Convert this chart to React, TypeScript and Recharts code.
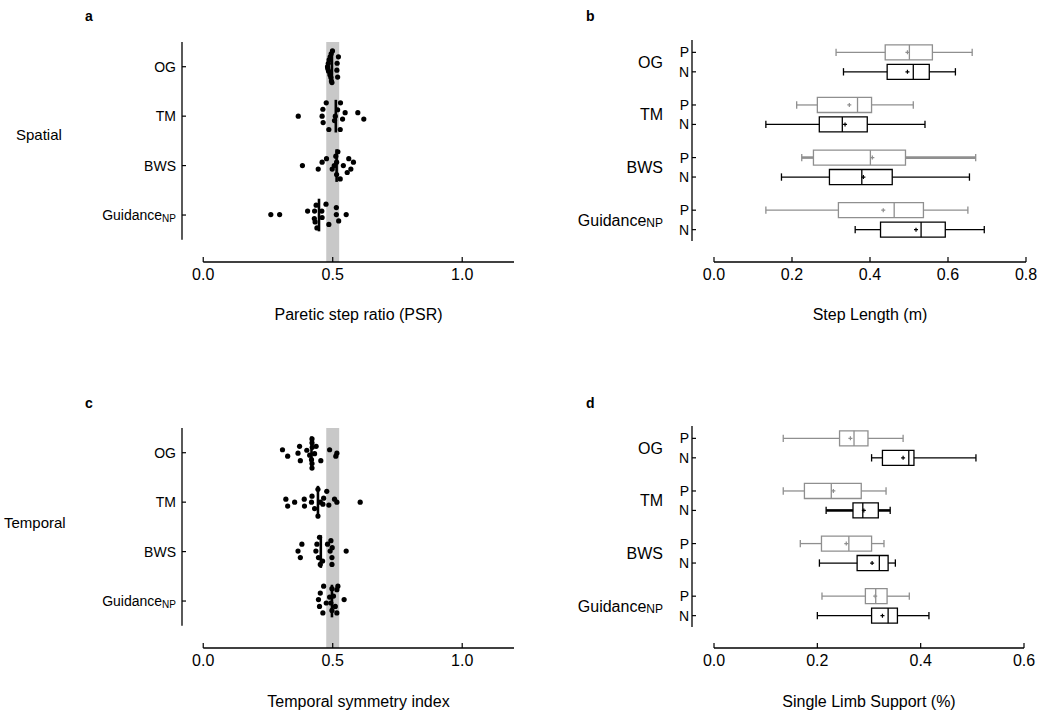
import React from "react";
import {
  ScatterChart,
  Scatter,
  XAxis,
  YAxis,
  ReferenceArea,
  ReferenceLine,
} from "recharts";

const FONT = "'Liberation Sans', Arial, sans-serif";

const groups = ["OG", "TM", "BWS", "Guidance"];
const groupRows = [4, 3, 2, 1];

// panel a: paretic step ratio, [value, vertical jitter in row units]
const psrOG: [number, number][] = [
  [0.519, -0.21], [0.516, -0.07], [0.517, 0.07], [0.522, 0.2],
  [0.497, -0.32], [0.495, -0.29], [0.493, -0.22], [0.489, -0.16], [0.484, -0.09],
  [0.481, -0.04], [0.48, 0], [0.483, 0.07], [0.486, 0.14], [0.49, 0.2],
  [0.494, 0.26], [0.499, 0.32],
];
const psrTM: [number, number][] = [
  [0.367, 0], [0.485, -0.27], [0.529, -0.27], [0.463, -0.13], [0.459, 0],
  [0.462, 0.14], [0.475, 0.27], [0.507, -0.09], [0.51, 0], [0.538, -0.06],
  [0.548, 0.07], [0.53, 0.27], [0.597, 0.07], [0.62, -0.06], [0.519, 0.13],
];
const psrBWS: [number, number][] = [
  [0.383, 0], [0.444, -0.07], [0.459, 0.07], [0.476, 0.14], [0.529, -0.27],
  [0.515, -0.18], [0.498, -0.07], [0.506, 0], [0.515, 0.07], [0.512, 0.19],
  [0.52, 0.28], [0.556, -0.14], [0.57, -0.07], [0.541, 0], [0.58, 0.07], [0.562, 0.14],
];
const psrGuidance: [number, number][] = [
  [0.261, 0.01], [0.295, 0.01], [0.403, 0.08], [0.43, 0.08], [0.429, -0.07],
  [0.432, -0.14], [0.439, -0.26], [0.436, 0.2], [0.459, -0.05], [0.458, 0.08],
  [0.474, 0.22], [0.485, -0.19], [0.523, -0.12], [0.514, 0.01], [0.514, 0.15], [0.552, 0.01],
];
const psrMedians = [0.497, 0.512, 0.515, 0.447];

// panel c: temporal symmetry index
const tsiOG: [number, number][] = [
  [0.306, 0.06], [0.326, -0.07], [0.375, -0.16], [0.366, -0.01], [0.372, 0.13],
  [0.4, 0.05], [0.411, -0.05], [0.42, -0.31], [0.42, -0.22], [0.418, -0.14],
  [0.421, 0.11], [0.42, 0.2], [0.42, 0.28], [0.43, -0.02], [0.436, 0.13],
  [0.454, -0.16], [0.488, 0.06], [0.512, -0.07], [0.516, -0.01],
];
const tsiTM: [number, number][] = [
  [0.326, -0.08], [0.319, 0.06], [0.353, 0], [0.391, -0.08], [0.39, 0.06],
  [0.418, 0], [0.42, 0.12], [0.43, -0.13], [0.443, -0.28], [0.443, 0.26],
  [0.452, 0], [0.462, -0.04], [0.465, 0.08], [0.477, 0.22], [0.485, -0.06],
  [0.507, 0.06], [0.516, 0], [0.606, 0],
];
const tsiBWS: [number, number][] = [
  [0.375, -0.12], [0.366, 0.01], [0.381, 0.15], [0.435, 0.01], [0.439, 0.15],
  [0.452, -0.26], [0.461, -0.19], [0.445, -0.12], [0.449, 0.29], [0.497, -0.26],
  [0.497, -0.12], [0.49, 0.01], [0.498, 0.08], [0.48, 0.15], [0.493, 0.22], [0.552, 0.01],
];
const tsiGuidance: [number, number][] = [
  [0.462, -0.24], [0.449, -0.11], [0.445, 0.03], [0.452, 0.16], [0.465, 0.3],
  [0.475, -0.04], [0.488, 0.08], [0.497, -0.19], [0.497, 0.25], [0.516, -0.24],
  [0.51, -0.11], [0.503, 0.1], [0.516, 0.23], [0.52, 0.3], [0.544, 0.03], [0.493, -0.04],
];
const tsiMedians = [0.418, 0.443, 0.454, 0.497];

// box stats per group: [min, q1, median, q3, max, mean]
const stepLengthP = [
  [0.313, 0.439, 0.501, 0.56, 0.662, 0.496],
  [0.212, 0.265, 0.368, 0.404, 0.511, 0.347],
  [0.225, 0.255, 0.401, 0.491, 0.671, 0.406],
  [0.133, 0.319, 0.462, 0.537, 0.651, 0.434],
];
const stepLengthN = [
  [0.332, 0.444, 0.511, 0.552, 0.619, 0.496],
  [0.133, 0.27, 0.329, 0.393, 0.541, 0.336],
  [0.173, 0.296, 0.379, 0.457, 0.655, 0.383],
  [0.362, 0.427, 0.531, 0.593, 0.693, 0.518],
];
const singleLimbP = [
  [0.134, 0.243, 0.271, 0.298, 0.366, 0.264],
  [0.134, 0.175, 0.227, 0.285, 0.333, 0.231],
  [0.167, 0.208, 0.261, 0.305, 0.329, 0.256],
  [0.209, 0.293, 0.313, 0.335, 0.378, 0.312],
];
const singleLimbN = [
  [0.305, 0.326, 0.377, 0.387, 0.507, 0.366],
  [0.217, 0.269, 0.288, 0.318, 0.341, 0.29],
  [0.204, 0.277, 0.32, 0.337, 0.351, 0.306],
  [0.2, 0.305, 0.337, 0.355, 0.416, 0.326],
];

const psrTicks = [0, 0.5, 1];
const stepTicks = [0, 0.2, 0.4, 0.6, 0.8];
const slsTicks = [0, 0.2, 0.4, 0.6];

const GREY = "#8f8f8f";
const BAND = "#c8c8c8";

function GroupLabel({ x, y, name, size }: any) {
  if (name === "Guidance") {
    const sub = Math.round(size * 0.72);
    const subW = sub * 1.39;
    return (
      <g fontFamily={FONT}>
        <text x={x - subW} y={y} dy="0.36em" textAnchor="end" fontSize={size}>
          Guidance
        </text>
        <text x={x} y={y + 3} dy="0.36em" textAnchor="end" fontSize={sub}>
          NP
        </text>
      </g>
    );
  }
  return (
    <text x={x} y={y} dy="0.36em" textAnchor="end" fontSize={size} fontFamily={FONT}>
      {name}
    </text>
  );
}

const XTick = (p: any) => (
  <g>
    <line x1={p.x} x2={p.x} y1={p.y - 5} y2={p.y} stroke="#000" strokeWidth={1.2} />
    <text x={p.x} y={p.y + 18} textAnchor="middle" fontSize={16} fontFamily={FONT}>
      {Number(p.payload.value).toFixed(1)}
    </text>
  </g>
);

function StripTick(p: any) {
  const i = groupRows.indexOf(p.payload.value);
  return (
    <g>
      <line x1={p.x} x2={p.x + 4} y1={p.y} y2={p.y} stroke="#000" strokeWidth={1.2} />
      <GroupLabel x={p.x - 6} y={p.y} name={groups[i]} size={14} />
    </g>
  );
}

const dot = (p: any) => <circle cx={p.cx} cy={p.cy} r={2.6} fill="#000" />;

function StripPanel({ top, sets, medians }: any) {
  const xMin = -0.082;
  const pts = sets.flatMap((s: [number, number][], gi: number) =>
    s.map(([v, j]) => ({ x: v, y: groupRows[gi] + j }))
  );
  return (
    <div style={{ position: "absolute", left: 0, top, width: 530, height: 290 }}>
      <ScatterChart width={530} height={290} margin={{ top: 42, right: 16, bottom: 3, left: 181 }}>
        <XAxis
          type="number"
          dataKey="x"
          domain={[xMin, 1.2]}
          ticks={psrTicks}
          interval={0}
          allowDataOverflow
          height={25}
          axisLine={false}
          tickLine={false}
          tickSize={0}
          tickMargin={0}
          tick={XTick}
        />
        <YAxis
          type="number"
          dataKey="y"
          domain={[0.05, 4.5]}
          ticks={groupRows}
          interval={0}
          allowDataOverflow
          width={1}
          axisLine={false}
          tickLine={false}
          tickSize={0}
          tickMargin={0}
          tick={StripTick}
        />
        <ReferenceArea x1={0.475} x2={0.525} y1={0.05} y2={4.5} fill={BAND} fillOpacity={1} stroke="none" ifOverflow="visible" />
        <ReferenceLine segment={[{ x: 0, y: 0.05 }, { x: 1.2, y: 0.05 }]} stroke="#000" strokeWidth={1.3} ifOverflow="visible" />
        <ReferenceLine segment={[{ x: xMin, y: 0.5 }, { x: xMin, y: 4.5 }]} stroke="#000" strokeWidth={1.3} ifOverflow="visible" />
        <Scatter data={pts} shape={dot} isAnimationActive={false} />
        {medians.map((m: number, i: number) => (
          <ReferenceLine
            key={i}
            segment={[{ x: m, y: groupRows[i] - 0.33 }, { x: m, y: groupRows[i] + 0.33 }]}
            stroke="#000"
            strokeWidth={2.6}
          />
        ))}
      </ScatterChart>
    </div>
  );
}

const ROW_OFF = 0.185;
const BOX_H = 0.143;
const CAP_H = 0.07;

function boxTicks() {
  const t: { v: number; label: string }[] = [];
  groupRows.forEach((r, i) => {
    t.push({ v: r, label: groups[i] });
    t.push({ v: r + ROW_OFF, label: "P" });
    t.push({ v: r - ROW_OFF, label: "N" });
  });
  return t;
}
const boxTickInfo = boxTicks();

function BoxTick(p: any) {
  const info = boxTickInfo.find((t) => Math.abs(t.v - p.payload.value) < 1e-6);
  if (!info) return null;
  if (info.label !== "P" && info.label !== "N") {
    return <GroupLabel x={p.x - 29} y={p.y} name={info.label} size={16} />;
  }
  return (
    <g>
      <line x1={p.x} x2={p.x + 4} y1={p.y} y2={p.y} stroke="#000" strokeWidth={1.2} />
      <text x={p.x - 3} y={p.y} dy="0.36em" textAnchor="end" fontSize={14} fontFamily={FONT}>
        {info.label}
      </text>
    </g>
  );
}

const meanMark = (color: string) => (p: any) => (
  <path
    d={`M${p.cx - 2},${p.cy}H${p.cx + 2}M${p.cx},${p.cy - 2}V${p.cy + 2}`}
    stroke={color}
    strokeWidth={1.2}
    fill="none"
  />
);

function boxShapes(stats: number[][], sign: number, color: string, heavy: number, key: string) {
  const out: any[] = [];
  stats.forEach((s, i) => {
    const y = groupRows[i] + sign * ROW_OFF;
    const [mn, q1, md, q3, mx] = s;
    const w = i === heavy ? 2.6 : 1.3;
    out.push(
      <ReferenceArea key={`${key}b${i}`} x1={q1} x2={q3} y1={y - BOX_H} y2={y + BOX_H} fill="none" fillOpacity={0} stroke={color} strokeWidth={1.3} />,
      <ReferenceLine key={`${key}m${i}`} segment={[{ x: md, y: y - BOX_H }, { x: md, y: y + BOX_H }]} stroke={color} strokeWidth={1.3} />,
      <ReferenceLine key={`${key}wl${i}`} segment={[{ x: mn, y }, { x: q1, y }]} stroke={color} strokeWidth={w} />,
      <ReferenceLine key={`${key}wr${i}`} segment={[{ x: q3, y }, { x: mx, y }]} stroke={color} strokeWidth={w} />,
      <ReferenceLine key={`${key}cl${i}`} segment={[{ x: mn, y: y - CAP_H }, { x: mn, y: y + CAP_H }]} stroke={color} strokeWidth={1.3} />,
      <ReferenceLine key={`${key}cr${i}`} segment={[{ x: mx, y: y - CAP_H }, { x: mx, y: y + CAP_H }]} stroke={color} strokeWidth={1.3} />
    );
  });
  return out;
}

function BoxPanel({ top, pStats, nStats, xMax, xMin, ticks, right, heavyP, heavyN }: any) {
  const meansP = pStats.map((s: number[], i: number) => ({ x: s[5], y: groupRows[i] + ROW_OFF }));
  const meansN = nStats.map((s: number[], i: number) => ({ x: s[5], y: groupRows[i] - ROW_OFF }));
  return (
    <div style={{ position: "absolute", left: 540, top, width: 502, height: 290 }}>
      <ScatterChart width={502} height={290} margin={{ top: 40, right, bottom: 3, left: 151 }}>
        <XAxis
          type="number"
          dataKey="x"
          domain={[xMin, xMax]}
          ticks={ticks}
          interval={0}
          allowDataOverflow
          height={25}
          axisLine={false}
          tickLine={false}
          tickSize={0}
          tickMargin={0}
          tick={XTick}
        />
        <YAxis
          type="number"
          dataKey="y"
          domain={[0.2, 4.42]}
          ticks={boxTickInfo.map((t) => t.v)}
          interval={0}
          allowDataOverflow
          width={1}
          axisLine={false}
          tickLine={false}
          tickSize={0}
          tickMargin={0}
          tick={BoxTick}
        />
        <ReferenceLine segment={[{ x: 0, y: 0.2 }, { x: xMax, y: 0.2 }]} stroke="#000" strokeWidth={1.3} ifOverflow="visible" />
        <ReferenceLine segment={[{ x: xMin, y: 0.6 }, { x: xMin, y: 4.42 }]} stroke="#000" strokeWidth={1.3} ifOverflow="visible" />
        {boxShapes(pStats, 1, GREY, heavyP, "p")}
        {boxShapes(nStats, -1, "#000", heavyN, "n")}
        <Scatter data={meansP} shape={meanMark(GREY)} isAnimationActive={false} />
        <Scatter data={meansN} shape={meanMark("#000")} isAnimationActive={false} />
      </ScatterChart>
    </div>
  );
}

export default function App() {
  return (
    <div style={{ position: "absolute", left: 0, top: 0, width: 1042, height: 721, background: "#fff", overflow: "hidden" }}>
      <StripPanel top={0} sets={[psrOG, psrTM, psrBWS, psrGuidance]} medians={psrMedians} />
      <StripPanel top={386} sets={[tsiOG, tsiTM, tsiBWS, tsiGuidance]} medians={tsiMedians} />
      <BoxPanel top={0} pStats={stepLengthP} nStats={stepLengthN} xMin={-0.0564} xMax={0.8} ticks={stepTicks} right={16} heavyP={2} heavyN={-1} />
      <BoxPanel top={386} pStats={singleLimbP} nStats={singleLimbN} xMin={-0.0426} xMax={0.6} ticks={slsTicks} right={18} heavyP={-1} heavyN={1} />
      <svg width={1042} height={721} style={{ position: "absolute", left: 0, top: 0, pointerEvents: "none" }}>
        <g fontFamily={FONT} fontWeight="bold" fontSize={14}>
          <text x={85} y={21}>a</text>
          <text x={586} y={21}>b</text>
          <text x={85} y={408}>c</text>
          <text x={586} y={408}>d</text>
        </g>
        <g fontFamily={FONT} fontSize={15}>
          <text x={16} y={140}>Spatial</text>
          <text x={4} y={528}>Temporal</text>
        </g>
        <g fontFamily={FONT} fontSize={16} textAnchor="middle">
          <text x={358.5} y={320}>Paretic step ratio (PSR)</text>
          <text x={870} y={320}>Step Length (m)</text>
          <text x={358.5} y={707}>Temporal symmetry index</text>
          <text x={869} y={707}>Single Limb Support (%)</text>
        </g>
      </svg>
    </div>
  );
}
